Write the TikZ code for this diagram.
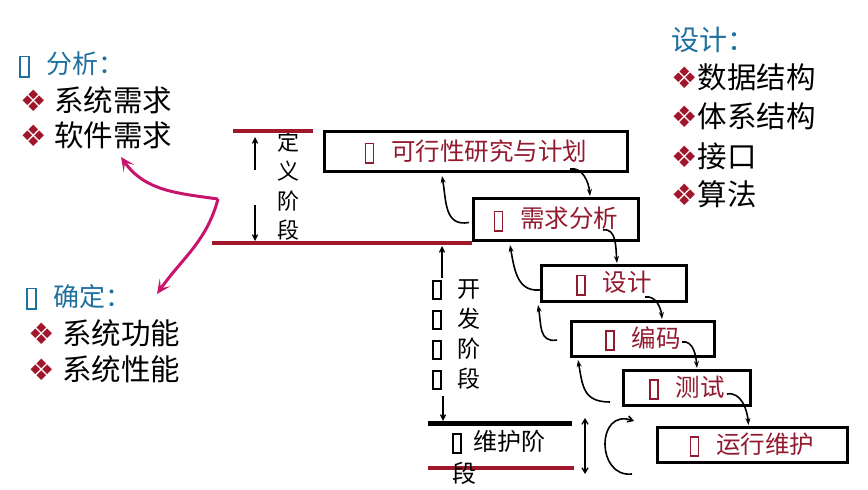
\documentclass[tikz,border=0pt]{standalone}
\usepackage{fontspec}
\setmainfont{Liberation Serif}
\newfontfamily\cjk{Noto Sans CJK SC}
\newfontfamily\symf{DejaVu Sans}
\usetikzlibrary{arrows.meta,calc}
\definecolor{darkred}{HTML}{A0172B}
\definecolor{boxred}{HTML}{921A2E}
\definecolor{headblue}{HTML}{20709F}
\definecolor{pinkline}{HTML}{C8146C}
\newcommand{\tofu}{\raisebox{-0.08em}{\fboxsep=0pt\fboxrule=0.07em\fbox{\rule{0pt}{0.72em}\hspace{0.26em}}}}
\newcommand{\bul}{{\symf\color{darkred}\char"2756}}
\tikzset{
  stagebox/.style={draw=black,line width=3pt,inner sep=0pt,font=\cjk\fontsize{24.5}{26}\selectfont,text=boxred},
  listtxt/.style={anchor=west,inner sep=0pt,font=\cjk\fontsize{29.5}{30}\selectfont,text=black},
  headtxt/.style={anchor=west,inner sep=0pt,font=\cjk\fontsize{26}{30}\selectfont,text=headblue},
  vtxt/.style={inner sep=0pt,align=center,font=\cjk\fontsize{22}{29.5}\selectfont,text=black},
  flow/.style={line width=1.6pt,-{Stealth[length=7pt,width=5pt]}},
  thinarr/.style={line width=1.3pt,-{Straight Barb[length=5pt,width=5pt]}},
  pinkarr/.style={draw=pinkline,line width=3pt,-{Stealth[length=14pt,width=13pt,inset=7pt]}},
  redbar/.style={draw=darkred,line width=4.5pt},
}
\begin{document}
\begin{tikzpicture}[x=1pt,y=-1pt]
\useasboundingbox (0,0) rectangle (868,490);
% boxes
\node[stagebox,minimum width=303pt,minimum height=40pt] (b1) at (476,151.5) {\tofu\hspace{0.7em}可行性研究与计划};
\node[stagebox,minimum width=165pt,minimum height=42pt] (b2) at (556,219.5) {\tofu\hspace{0.7em}需求分析};
\node[stagebox,minimum width=145pt,minimum height=36pt] (b3) at (614,283.5) {\tofu\hspace{0.7em}设计};
\node[stagebox,minimum width=143pt,minimum height=35pt] (b4) at (643,339) {\tofu\hspace{0.7em}编码};
\node[stagebox,minimum width=127pt,minimum height=35pt] (b5) at (687,388) {\tofu\hspace{0.7em}测试};
\node[stagebox,minimum width=190pt,minimum height=35pt] (b6) at (752,445) {\tofu\hspace{0.7em}运行维护};
% forward arrows
\draw[flow] ($(b1.south east)+(-59,-4)$) to[out=10,in=95] ($(b2.north west)+(118,-1)$);
\draw[flow] ($(b2.south west)+(131,-12)$) to[out=10,in=95] ($(b3.north west)+(77,-1)$);
\draw[flow] ($(b3.south west)+(105,-6)$) to[out=10,in=95] ($(b4.north west)+(92,-1)$);
\draw[flow] ($(b4.south west)+(112,-16)$) to[out=10,in=95] ($(b5.north west)+(75,-1)$);
\draw[flow] ($(b5.south west)+(105,-13)$) to[out=10,in=95] ($(b6.north west)+(93,-1)$);
% backward arrows
\draw[flow] ($(b2.west)+(-3,3)$) to[out=190,in=-80,looseness=1.2] ($(b1.south west)+(119,3)$);
\draw[flow] ($(b3.west)+(3,6)$) to[out=190,in=-80,looseness=1.2] ($(b2.south west)+(38,3)$);
\draw[flow] ($(b4.west)+(-13,1)$) to[out=190,in=-80,looseness=1.2] ($(b3.south west)+(-2,2)$);
\draw[flow] ($(b5.west)+(-12,14)$) to[out=180,in=-80,looseness=1.3] ($(b4.south west)+(8,2)$);
% maintenance loop
\coordinate (cl1) at (632,474);
\coordinate (cl2) at (634,421);
\draw[line width=1.6pt,-{Straight Barb[length=5pt,width=6pt]}] (cl1) .. controls (596,478) and (596,408) .. (cl2);
% phase bars
\coordinate (t1) at (233,131); \coordinate (t2) at (313,131);
\coordinate (m1) at (212,243); \coordinate (m2) at (472,243);
\coordinate (k1) at (428,423); \coordinate (k2) at (572,423);
\coordinate (r1) at (428,468); \coordinate (r2) at (574,468);
% texts of phases
\node[vtxt] (dy) at (288,186) {定\\义\\阶\\段};
\node[vtxt,font=\cjk\fontsize{23}{30}\selectfont] (kf) at (469,335) {开\\发\\阶\\段};
\node[vtxt,font=\cjk\fontsize{23}{30}\selectfont] (kft) at (437,335) {\tofu\\\tofu\\\tofu\\\tofu};
\draw[redbar] (t1) -- (t2);
\draw[redbar] (m1) -- (m2);
\draw[line width=5pt] (k1) -- (k2);
\draw[redbar] (r1) -- (r2);
\node[inner sep=0pt,anchor=north west,align=left,font=\cjk\fontsize{24}{32}\selectfont] (wh) at (452,430) {\tofu\hspace{0.5em}维护阶\\段};
% vertical arrows
\coordinate (a1s) at (255,170); \coordinate (a1e) at (255,137);
\coordinate (a2s) at (255,205); \coordinate (a2e) at (255,241);
\coordinate (a3s) at (442,278); \coordinate (a3e) at (442,246);
\coordinate (a4s) at (443,396); \coordinate (a4e) at (443,421);
\draw[thinarr] (a1s) -- (a1e);
\draw[thinarr] (a2s) -- (a2e);
\draw[thinarr] (a3s) -- (a3e);
\draw[thinarr] (a4s) -- (a4e);
\coordinate (d1) at (585,418); \coordinate (d2) at (585,474);
\draw[line width=1.3pt,{Straight Barb[length=5pt,width=6pt]}-{Straight Barb[length=5pt,width=6pt]}] (d1) -- (d2);
% left lists
\node[headtxt] (h1) at (19,65) {\tofu\hspace{0.65em}分析：};
\node[listtxt] (l1) at (20,100) {\bul\hspace{0.25em}系统需求};
\node[listtxt] (l2) at (20,135) {\bul\hspace{0.25em}软件需求};
\node[headtxt] (h2) at (26,297) {\tofu\hspace{0.65em}确定：};
\node[listtxt] (l3) at (28,333) {\bul\hspace{0.25em}系统功能};
\node[listtxt] (l4) at (28,369) {\bul\hspace{0.25em}系统性能};
% right list
\node[headtxt,font=\cjk\fontsize{28}{30}\selectfont] (h3) at (671,40) {设计：};
\node[listtxt] (r1n) at (671,77) {\bul 数据结构};
\node[listtxt] (r2n) at (671,116) {\bul 体系结构};
\node[listtxt] (r3n) at (671,156) {\bul 接口};
\node[listtxt] (r4n) at (671,194) {\bul 算法};
% pink arrows
\coordinate (pv) at (218,199);
\coordinate (pu) at (121,157);
\coordinate (pd) at (157,294);
\draw[pinkarr] (pv) to[out=172,in=-55] (pu);
\draw[pinkarr] (pv) to[out=-105,in=55] (pd);
\end{tikzpicture}
\end{document}
